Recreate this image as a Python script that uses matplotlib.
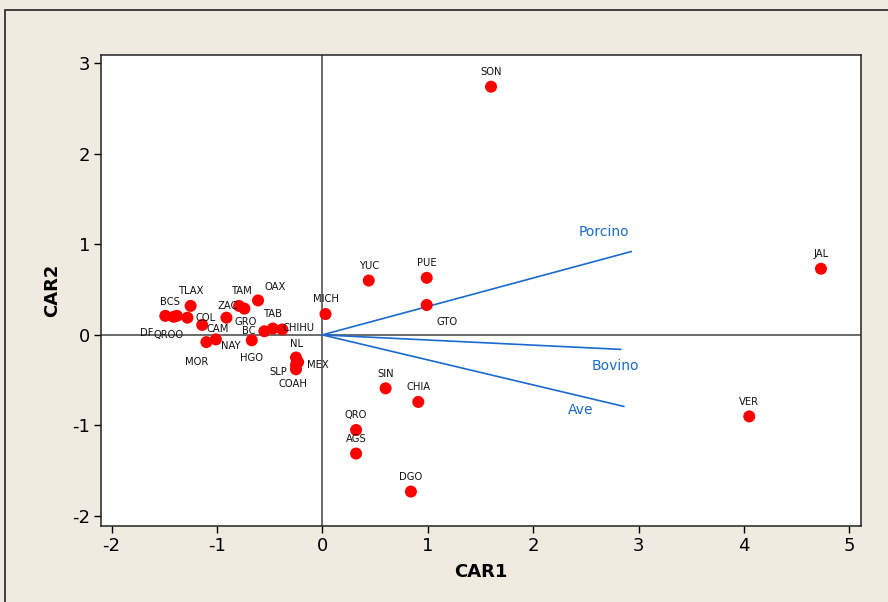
"""
Biplot: first two canonical axes (CAR1, CAR2) for the Mexican states,
with the livestock variables drawn as vectors from the origin.
"""
import matplotlib
matplotlib.use("Agg")
import matplotlib.pyplot as plt
from matplotlib.patches import Rectangle

plt.rcParams["axes.unicode_minus"] = False

# ── Scores per state ──────────────────────────────────────────────────────────
states = ["SON", "JAL", "VER", "YUC", "PUE", "GTO", "MICH", "SIN", "CHIA",
          "QRO", "AGS", "DGO", "OAX", "TAM", "ZAC", "GRO", "TLAX", "BCS",
          "DF", "QROO", "COL", "CAM", "NAY", "MOR", "HGO", "BC", "TAB",
          "CHIHU", "NL", "MEX", "SLP", "COAH"]
car1 = [1.60, 4.73, 4.05, 0.44, 0.99, 0.99, 0.03, 0.60, 0.91,
        0.32, 0.32, 0.84, -0.61, -0.79, -0.74, -0.91, -1.25, -1.41,
        -1.49, -1.38, -1.28, -1.14, -1.01, -1.10, -0.67, -0.55, -0.47,
        -0.38, -0.25, -0.23, -0.25, -0.25]
car2 = [2.74, 0.73, -0.90, 0.60, 0.63, 0.33, 0.23, -0.59, -0.74,
        -1.05, -1.31, -1.73, 0.38, 0.32, 0.29, 0.19, 0.32, 0.20,
        0.21, 0.21, 0.19, 0.11, -0.05, -0.08, -0.06, 0.04, 0.07,
        0.06, -0.25, -0.30, -0.38, -0.33]

# label offsets (points) relative to each marker
label_offset = {
    "GTO": (15, -12), "OAX": (12, 6), "TAM": (2, 7), "ZAC": (-12, 2),
    "GRO": (14, -3), "DF": (-13, -12), "QROO": (-6, -14), "COL": (13, 0),
    "CAM": (11, -3), "NAY": (11, -5), "MOR": (-7, -14), "HGO": (0, -13),
    "BC": (-11, 0), "CHIHU": (12, 1), "NL": (0, 6), "MEX": (14, -2),
    "SLP": (-13, -2), "COAH": (-2, -14), "BCS": (-3, 7),
}

# ── Variable vectors ──────────────────────────────────────────────────────────
variables = ["Porcino", "Bovino", "Ave"]
vec_x = [2.93, 2.83, 2.86]
vec_y = [0.92, -0.16, -0.79]
vec_label_pos = [(2.67, 1.14), (2.78, -0.34), (2.45, -0.83)]

BG = "#efebe1"
BLUE = "#1a6ad0"

fig = plt.figure(figsize=(8.88, 6.02), dpi=100, facecolor=BG)
ax = fig.add_axes([101 / 888, 1 - 526 / 602, 760 / 888, 471 / 602])

# outer frame of the graph window
fig.patches.append(Rectangle((5 / 888, -0.1), 1.2, 1 - 10 / 602 + 0.1,
                             transform=fig.transFigure, fill=False,
                             edgecolor="#333333", linewidth=1.3))

ax.axhline(0, color="#444444", linewidth=1.1, zorder=1)
ax.axvline(0, color="#444444", linewidth=1.1, zorder=1)

for v, x, y, (lx, ly) in zip(variables, vec_x, vec_y, vec_label_pos):
    ax.plot([0, x], [0, y], color=BLUE, linewidth=1.2, zorder=2)
    ax.text(lx, ly, v, color=BLUE, fontsize=10, ha="center", va="center")

ax.scatter(car1, car2, s=75, color="#ff0000", edgecolors="none", zorder=3)

for name, x, y in zip(states, car1, car2):
    dx, dy = label_offset.get(name, (0, 7))
    ax.annotate(name, (x, y), xytext=(dx, dy), textcoords="offset points",
                fontsize=7.2, ha="center", va="bottom" if dy > 3 else "center",
                color="#111111")

ax.set_xlim(-2.10, 5.11)
ax.set_ylim(-2.11, 3.09)
ax.set_xticks(range(-2, 6))
ax.set_yticks(range(-2, 4))
ax.tick_params(direction="out", length=5, width=1, labelsize=13, pad=3)
for s in ax.spines.values():
    s.set_linewidth(1.1)
    s.set_color("#222222")

ax.set_xlabel("CAR1", fontsize=13, fontweight="bold", labelpad=6)
ax.set_ylabel("CAR2", fontsize=13, fontweight="bold", labelpad=8)

plt.savefig("out.png", dpi=100, facecolor=BG)
